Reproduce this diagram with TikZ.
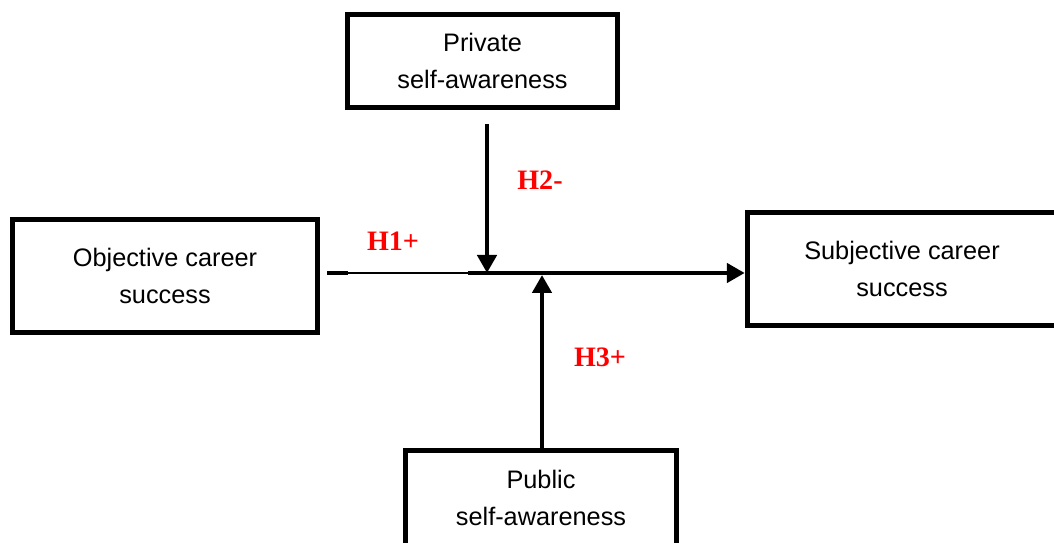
\documentclass[tikz,border=0pt]{standalone}
\usepackage{fontspec}
\setmainfont{Liberation Sans}
\newfontfamily\hfont{Liberation Serif}
\usetikzlibrary{arrows.meta}
\begin{document}
\begin{tikzpicture}[
		varbox/.style={draw, line width=2.8pt, align=center, inner sep=0pt,
			font=\fontsize{14.4}{21.5}\selectfont},
		hyp/.style={text=red, font=\hfont\bfseries\fontsize{16}{18}\selectfont},
		path/.style={line width=2.6pt, -{Triangle[length=0.36cm, width=0.38cm]}}
	]
		\useasboundingbox (0,0) rectangle (21.08,10.86);

		\node [varbox, minimum width=6.1cm,  minimum height=2.26cm] (obj)  at ( 3.30,5.34) {Objective career\\success};
		\node [varbox, minimum width=5.4cm,  minimum height=1.86cm] (priv) at ( 9.65,9.64) {Private\\self-awareness};
		\node [varbox, minimum width=6.19cm, minimum height=2.26cm] (subj) at (18.04,5.48) {Subjective career\\success};
		\node [varbox, minimum width=5.42cm, minimum height=1.9cm]  (publ) at (10.82,0.90) {Public\\self-awareness};

		\coordinate (m1) at (6.54,5.40);
		\coordinate (m2) at (6.96,5.40);
		\coordinate (m3) at (9.36,5.40);
		\coordinate (top)  at ([yshift=-0.28cm]priv.south -| 9.74,0);
		\coordinate (bot)  at (publ.north -| 10.84,0);

		\draw [line width=2.6pt] (m1) -- (m2);
		\draw [line width=1.2pt] (m2) -- (m3);
		\draw [path] (m3) -- (subj.west |- m3);
		\draw [path] (top) -- (top |- m3);
		\draw [path] (bot) -- ([yshift=-0.04cm]bot |- m3);

		\node [hyp] (h1) at ( 7.86,6.04) {H1+};
		\node [hyp] (h2) at (10.80,7.26) {H2-};
		\node [hyp] (h3) at (12.00,3.72) {H3+};
	\end{tikzpicture}
\end{document}
